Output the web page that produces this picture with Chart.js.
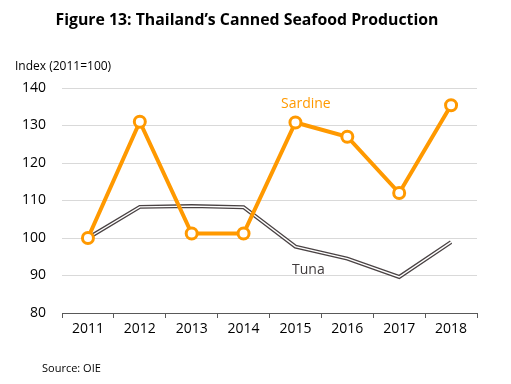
<!DOCTYPE html>
<html><head><meta charset="utf-8">
<script src="https://cdn.jsdelivr.net/npm/chart.js@4"></script>
<style>html,body{margin:0;padding:0;background:#fff}#wrap{width:511px;height:384px;position:relative}</style>
</head><body><div id="wrap"><canvas id="c" width="511" height="384"></canvas></div>
<script>
const categories = ['2011','2012','2013','2014','2015','2016','2017','2018'];
const sardine = [100, 131, 101.2, 101.2, 130.8, 127, 112, 135.4];
const tuna = [100, 108.3, 108.5, 108.2, 97.7, 94.5, 89.6, 98.9];
const yTicks = [80, 90, 100, 110, 120, 130, 140];
const titleText = 'Figure 13: Thailand\u2019s Canned Seafood Production';
const yTitle = 'Index (2011=100)';
const sourceText = 'Source: OIE';
const FONT = "'Open Sans', 'Liberation Sans', sans-serif";

const textPlugin = {
  id: 'texts',
  afterDraw(chart) {
    const ctx = chart.ctx;
    const xs = chart.scales.x, ys = chart.scales.y;
    ctx.save();
    ctx.fillStyle = '#000';
    ctx.textBaseline = 'alphabetic';
    ctx.textAlign = 'center';
    ctx.font = "bold 16px " + FONT;
    ctx.fillText(titleText, 247, 25, 383);
    ctx.textAlign = 'left';
    ctx.font = "12px " + FONT;
    ctx.fillText(yTitle, 15, 70, 103);
    ctx.font = "11px " + FONT;
    ctx.fillText(sourceText, 42, 372, 64);
    ctx.textAlign = 'center';
    ctx.font = "14px " + FONT;
    ctx.fillStyle = '#ff9900';
    ctx.fillText('Sardine', xs.getPixelForValue(4.2), ys.getPixelForValue(134.6));
    ctx.fillStyle = '#3f3a3b';
    ctx.fillText('Tuna', xs.getPixelForValue(4.25), ys.getPixelForValue(90.5));
    ctx.restore();
  }
};

new Chart(document.getElementById('c'), {
  type: 'line',
  data: {
    labels: categories,
    datasets: [
      { label: 'Tuna inner', data: tuna, borderColor: '#ffffff', borderWidth: 1.4, pointRadius: 0, tension: 0, order: 2 },
      { label: 'Tuna', data: tuna, borderColor: '#4a4344', borderWidth: 4, pointRadius: 0, tension: 0, order: 3 },
      { label: 'Sardine', data: sardine, borderColor: '#ff9900', borderWidth: 4, pointRadius: 5.5, pointBorderWidth: 3,
        pointBackgroundColor: '#ffffff', pointBorderColor: '#ff9900', tension: 0, order: 1 }
    ]
  },
  options: {
    responsive: false,
    animation: false,
    devicePixelRatio: 1,
    layout: { padding: { left: 0, right: 34, top: 88, bottom: 40 } },
    plugins: { legend: { display: false }, tooltip: { enabled: false }, title: { display: false } },
    scales: {
      x: {
        offset: true,
        grid: { offset: true, drawOnChartArea: false, drawTicks: true, tickLength: 5, color: '#595959' },
        border: { color: '#595959', width: 1 },
        ticks: { color: '#000', font: { family: FONT, size: 14 }, padding: 3, maxRotation: 0 },
        afterFit(s) { s.height = 31; }
      },
      y: {
        min: 80, max: 140,
        afterBuildTicks(s) { s.ticks = yTicks.map(v => ({ value: v })); },
        grid: { color: '#d9d9d9', drawTicks: false, lineWidth: 1 },
        border: { display: false },
        ticks: { color: '#000', font: { family: FONT, size: 14 }, padding: 16 },
        afterFit(s) { s.width = 62; }
      }
    }
  },
  plugins: [textPlugin]
});
</script></body></html>
